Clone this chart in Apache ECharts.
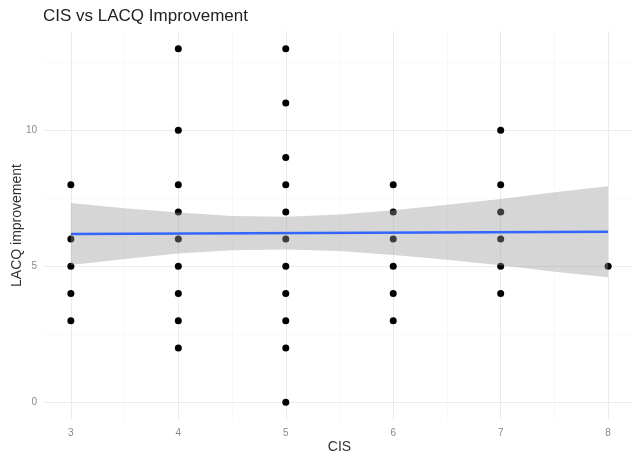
<!DOCTYPE html>
<html>
<head>
<meta charset="utf-8">
<title>CIS vs LACQ Improvement</title>
<script src="https://cdn.jsdelivr.net/npm/echarts@6/dist/echarts.min.js"></script>
<style>
  html, body { margin: 0; padding: 0; background: #fff; }
  #chart { width: 632px; height: 460px; }
</style>
</head>
<body>
<div id="chart"></div>
<script>
// observations (CIS, LACQ improvement)
var cis = [3, 3, 3, 3, 3,
    4, 4, 4, 4, 4, 4, 4, 4, 4,
    5, 5, 5, 5, 5, 5, 5, 5, 5, 5, 5,
    6, 6, 6, 6, 6, 6,
    7, 7, 7, 7, 7, 7,
    8];
var lacq = [8, 6, 5, 4, 3,
    13, 10, 8, 7, 6, 5, 4, 3, 2,
    13, 11, 9, 8, 7, 6, 5, 4, 3, 2, 0,
    8, 7, 6, 5, 4, 3,
    10, 8, 7, 6, 5, 4,
    5];

// fitted line and its confidence band
var fitX = [3, 8];
var fitY = [6.19, 6.27];
var bandX = [3, 3.5, 4, 4.5, 5, 5.5, 6, 6.5, 7, 7.5, 8];
var bandLow = [5.05, 5.27, 5.47, 5.59, 5.62, 5.56, 5.42, 5.24, 5.04, 4.80, 4.60];
var bandHigh = [7.33, 7.13, 6.98, 6.85, 6.82, 6.90, 7.06, 7.26, 7.47, 7.72, 7.94];

var xMajor = [3, 4, 5, 6, 7, 8];
var xMinor = [3.5, 4.5, 5.5, 6.5, 7.5];
var yMajor = [0, 5, 10];
var yMinor = [2.5, 7.5, 12.5];

var myChart = echarts.init(document.getElementById('chart'));

var font = 'Liberation Sans, Arial, sans-serif';
// panel runs a little past the right edge, as in the original
var grid = { left: 44, right: -3, top: 31, bottom: 40, outerBoundsMode: 'none' };

function axisBase(vals, labels, lineColor, lineWidth) {
    return {
        type: 'value',
        gridIndex: 0,
        axisLine: { show: false },
        axisTick: { show: false, customValues: vals },
        axisLabel: labels ? {
            customValues: vals,
            color: '#8a8a8a',
            fontSize: 10,
            fontFamily: font
        } : { show: false },
        splitLine: { show: true, lineStyle: { color: lineColor, width: lineWidth } }
    };
}

var xMain = axisBase(xMajor, true, '#ebebeb', 1);
xMain.min = 2.75; xMain.max = 8.25;
xMain.axisLabel.margin = 8;
xMain.name = 'CIS';
xMain.nameLocation = 'middle';
xMain.nameGap = 20;
xMain.nameMoveOverlap = false;
xMain.nameTextStyle = { color: '#333', fontSize: 14, fontFamily: font };

var xSub = axisBase(xMinor, false, '#f4f4f4', 0.6);
xSub.min = 2.75; xSub.max = 8.25;

var yMain = axisBase(yMajor, true, '#ebebeb', 1);
yMain.min = -0.65; yMain.max = 13.65;
yMain.axisLabel.margin = 7;
yMain.name = 'LACQ improvement';
yMain.nameLocation = 'middle';
yMain.nameGap = 20;
yMain.nameMoveOverlap = false;
yMain.nameTextStyle = { color: '#333', fontSize: 14, fontFamily: font };

var ySub = axisBase(yMinor, false, '#f4f4f4', 0.6);
ySub.min = -0.65; ySub.max = 13.65;

var option = {
    backgroundColor: '#fff',
    animation: false,
    title: {
        text: 'CIS vs LACQ Improvement',
        left: 38,
        top: 3,
        textStyle: { color: '#222', fontSize: 17, fontWeight: 'normal', fontFamily: font }
    },
    grid: grid,
    xAxis: [xMain, xSub],
    yAxis: [yMain, ySub],
    series: [{
        name: 'points',
        type: 'scatter',
        symbolSize: 7,
        itemStyle: { color: '#000', opacity: 1 },
        z: 2,
        data: cis.map(function (x, i) { return [x, lacq[i]]; })
    }, {
        name: 'band',
        type: 'custom',
        z: 3,
        clip: true,
        encode: { x: 0, y: [1, 2] },
        data: bandX.map(function (x, i) { return [x, bandLow[i], bandHigh[i]]; }),
        renderItem: function (params, api) {
            if (params.dataIndex !== 0) return;
            var pts = [];
            for (var i = 0; i < bandX.length; i++) pts.push(api.coord([bandX[i], bandHigh[i]]));
            for (var j = bandX.length - 1; j >= 0; j--) pts.push(api.coord([bandX[j], bandLow[j]]));
            return {
                type: 'polygon',
                shape: { points: pts },
                style: { fill: 'rgba(153,153,153,0.4)' }
            };
        }
    }, {
        name: 'fit',
        type: 'line',
        z: 4,
        showSymbol: false,
        lineStyle: { color: '#3366FF', width: 2.5 },
        data: fitX.map(function (x, i) { return [x, fitY[i]]; })
    }]
};
myChart.setOption(option);
</script>
</body>
</html>
